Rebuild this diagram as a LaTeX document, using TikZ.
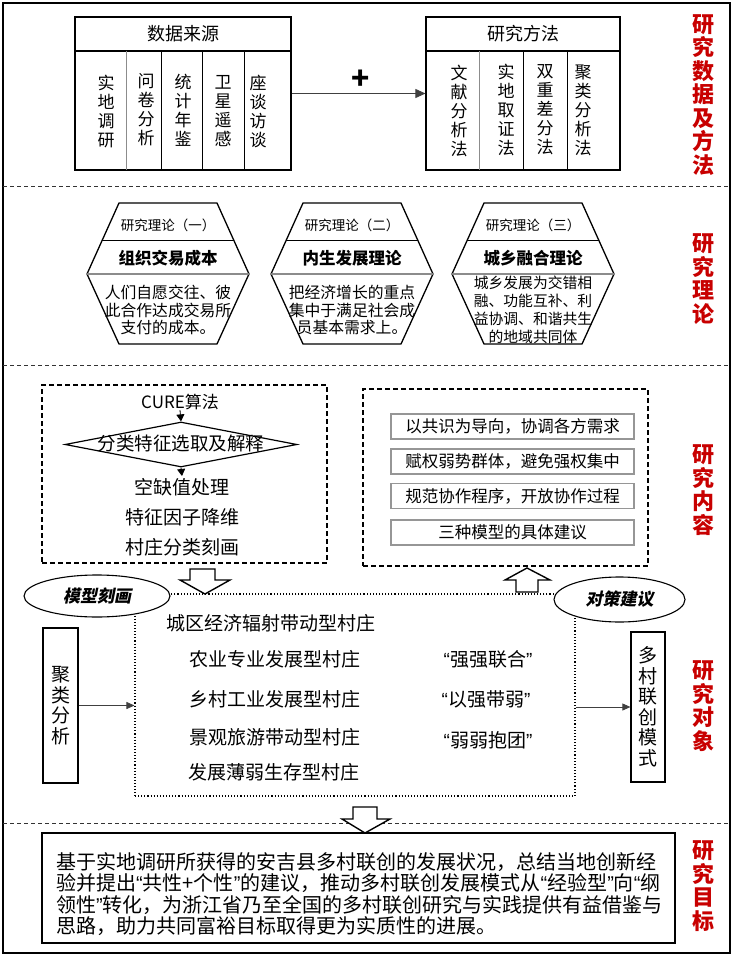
\documentclass[tikz,border=0pt]{standalone}
\usepackage{fontspec}
\setmainfont{Noto Sans CJK SC}
\newfontfamily\slantcjk[FakeSlant=0.2]{Noto Sans CJK SC}
\newfontfamily\quotefont{Liberation Sans}
\usetikzlibrary{arrows.meta,shapes.geometric}
\definecolor{labred}{RGB}{200,0,0}
\definecolor{framegray}{RGB}{150,150,150}
\newcommand\fsz[2]{\fontsize{#1}{#2}\selectfont}
% narrow curly quotes
\newcommand\oq{{\quotefont “}}
\newcommand\cq{{\quotefont ”}}

% one theory hexagon: #1 name prefix, #2 centre x, #3 tag, #4 title, #5 body, #6 body font
\newcommand\theoryhex[6]{%
  \draw[hexline] (#2-49,203) -- (#2+49,203) -- (#2+81,274) -- (#2+49,344) -- (#2-49,344) -- (#2-81,274) -- cycle;
  \begin{scope}
    \clip (#2-49,203) -- (#2+49,203) -- (#2+81,274) -- (#2+49,344) -- (#2-49,344) -- (#2-81,274) -- cycle;
    \draw[line width=1.1pt] (#2-90,240.5) -- (#2+90,240.5);
    \draw[line width=1.1pt, draw=black!45] (#2-90,274) -- (#2+90,274);
  \end{scope}
  \node[plain, font=\fsz{13.5}{15}] (#1tag) at (#2,225) {#3};
  \node[plain, font=\fsz{16.5}{18}\bfseries] (#1name) at (#2,258) {#4};
  \node[plain, align=center, font=#6] (#1body) at (#2,310) {#5};
}

\begin{document}
\begin{tikzpicture}[x=1pt,y=-1pt,
  box/.style={draw, line width=1.2pt, inner sep=0pt},
  vcol/.style={align=center, inner sep=0pt, font=\fsz{17}{19}},
  redlab/.style={align=center, inner sep=0pt, text=labred, font=\fsz{22}{23.5}\bfseries},
  plain/.style={inner sep=0pt},
  sep/.style={draw=black!80, line width=0.8pt, dash pattern=on 4pt off 3pt},
  dbox/.style={draw, line width=1.1pt, dash pattern=on 5pt off 3pt, inner sep=0pt},
  gbox/.style={draw=framegray, line width=1.3pt, inner sep=0pt, minimum width=243pt, minimum height=25pt, font=\fsz{16.5}{18}},
  tip/.style={-{Triangle[length=8pt,width=7pt]}, line width=0.8pt, draw=black!75},
  hollow/.style={draw, line width=1.4pt, fill=white, line join=miter},
  hexline/.style={line width=1.3pt},
  villa/.style={anchor=west, inner sep=0pt, font=\fsz{19}{21}},
  oval/.style={ellipse, draw, line width=1.1pt, fill=white, inner sep=0pt, font=\fsz{17}{19}\slantcjk\bfseries}
]
\useasboundingbox (0,0) rectangle (733,957);
\fill[white] (0,0) rectangle (733,957);

% outer frame and section separators
\draw[line width=1.3pt] (3,3) rectangle (730,953);
\draw[sep] (3,186) -- (730,186);
\draw[sep] (3,365) -- (730,365);
\draw[sep] (3,823) -- (730,823);

% ---------- data and methods ----------
\node[box, minimum width=216pt, minimum height=153pt] (src) at (183,93.5) {};
\draw[line width=1.2pt] (75,51) -- (291,51);
\draw[line width=1pt, draw=black!45] (126,51) -- (126,170);
\foreach \xx in {161,202,244} \draw[line width=1pt] (\xx,51) -- (\xx,170);
\node[plain, font=\fsz{18}{20}] (srchead) at (183,34) {数据来源};
\node[vcol] (s1) at (106,112) {实\\地\\调\\研};
\node[vcol] (s2) at (146,110) {问\\卷\\分\\析};
\node[vcol] (s3) at (183,110) {统\\计\\年\\鉴};
\node[vcol] (s4) at (223,111) {卫\\星\\遥\\感};
\node[vcol] (s5) at (258,111) {座\\谈\\访\\谈};

\node[box, minimum width=194pt, minimum height=153pt] (mth) at (523,93.5) {};
\draw[line width=1.2pt] (426,51) -- (620,51);
\draw[line width=1pt, draw=black!45] (479,51) -- (479,170);
\foreach \xx in {523,567} \draw[line width=1pt] (\xx,51) -- (\xx,170);
\node[plain, font=\fsz{18}{20}] (mthhead) at (523,34) {研究方法};
\node[vcol] (m1) at (459,111) {文\\献\\分\\析\\法};
\node[vcol] (m2) at (506,110) {实\\地\\取\\证\\法};
\node[vcol] (m3) at (545,110) {双\\重\\差\\分\\法};
\node[vcol] (m4) at (583,110) {聚\\类\\分\\析\\法};

\draw[tip, -{Triangle[length=10pt,width=9pt]}] (src.east) -- (mth.west);
\node[plain, font=\fsz{30}{30}\bfseries] (plus) at (361,80) {+};

\node[redlab] (lab1) at (703,95) {研\\究\\数\\据\\及\\方\\法};

% ---------- theories ----------
\theoryhex{ta}{168}{研究理论（一）}{组织交易成本}{人们自愿交往、彼\\此合作达成交易所\\支付的成本。}{\fsz{15.8}{17.2}}
\theoryhex{tb}{352}{研究理论（二）}{内生发展理论}{把经济增长的重点\\集中于满足社会成\\员基本需求上。}{\fsz{15.8}{17.8}}
\theoryhex{tc}{533}{研究理论（三）}{城乡融合理论}{城乡发展为交错相\\融、功能互补、利\\益协调、和谐共生\\的地域共同体}{\fsz{14.8}{18}}

\node[redlab] (lab2) at (703,279) {研\\究\\理\\论};

% ---------- research content ----------
\node[dbox, minimum width=285pt, minimum height=178pt] (algo) at (184.5,474) {};
\node[plain, font=\fsz{17}{19}] (cure) at (180,402) {CURE算法};
\node[diamond, draw, line width=1.2pt, inner sep=0pt, minimum width=232pt, minimum height=45pt] (dia) at (181,444.5) {};
\node[plain, font=\fsz{18.5}{20}] (diatext) at (181,443) {分类特征选取及解释};
\node[plain, font=\fsz{19}{21}, inner sep=2pt] (kq) at (182,487) {空缺值处理};
\node[plain, font=\fsz{19}{21}] (tz) at (182,517) {特征因子降维};
\node[plain, font=\fsz{19}{21}] (cz) at (182,547) {村庄分类刻画};
\draw[-{Triangle[length=7pt,width=8pt]}, line width=0.8pt] (cure.south) -- (dia.north);
\draw[-{Triangle[length=7pt,width=8pt]}, line width=0.8pt] (dia.south) -- (kq.north);

\node[dbox, minimum width=285pt, minimum height=177pt] (adv) at (505.5,477.5) {};
\node[gbox] (g1) at (512.5,426.5) {以共识为导向，协调各方需求};
\node[gbox] (g2) at (512.5,461.5) {赋权弱势群体，避免强权集中};
\node[gbox] (g3) at (512.5,496) {规范协作程序，开放协作过程};
\node[gbox] (g4) at (512.5,532.5) {三种模型的具体建议};

\node[redlab] (lab3) at (703,490) {研\\究\\内\\容};

% ---------- research objects ----------
\node[draw, dotted, line width=1.1pt, inner sep=0pt, minimum width=440pt, minimum height=202pt] (vil) at (355,695) {};
\node[oval, minimum width=146pt, minimum height=42pt] (model) at (97,596) {模型刻画};
\node[oval, minimum width=131pt, minimum height=45pt] (policy) at (619.5,599.5) {对策建议};

% block arrows between the panels
\draw[hollow] (190,569) -- (215,569) -- (215,580) -- (230,580) -- (205,594) -- (180,580) -- (190,580) -- cycle;
\draw[hollow] (516,592) -- (538,592) -- (538,580) -- (550,580) -- (527,568) -- (505,580) -- (516,580) -- cycle;

\node[box, minimum width=35pt, minimum height=155pt, align=center, font=\fsz{19}{20.5}] (jl) at (60.5,705.5) {聚\\类\\分\\析};
\node[box, minimum width=34pt, minimum height=150pt, align=center, font=\fsz{19}{20.5}] (mc) at (648,707) {多\\村\\联\\创\\模\\式};
\draw[tip] (jl.east) -- (jl.east -| vil.west);
\draw[tip] (vil.east |- mc.west) -- (mc.west);

\node[villa] (v1) at (166,623) {城区经济辐射带动型村庄};
\node[villa] (v2) at (189,659) {农业专业发展型村庄};
\node[villa] (v3) at (189,699) {乡村工业发展型村庄};
\node[villa] (v4) at (189,737) {景观旅游带动型村庄};
\node[villa] (v5) at (188,772) {发展薄弱生存型村庄};
\node[plain, font=\fsz{19}{21}] (q1) at (488,659) {\oq 强强联合\cq};
\node[plain, font=\fsz{19}{21}] (q2) at (486,699) {\oq 以强带弱\cq};
\node[plain, font=\fsz{19}{21}] (q3) at (488,740) {\oq 弱弱抱团\cq};

\node[redlab] (lab4) at (703,706) {研\\究\\对\\象};

% ---------- research goal ----------
\draw[hollow] (353,807) -- (377,807) -- (377,819) -- (390,819) -- (365,833) -- (342,819) -- (353,819) -- cycle;
\node[box, minimum width=633pt, minimum height=110pt] (goal) at (358.5,888) {};
\node[plain, anchor=west, align=left, font=\fsz{20}{21.4}] (goaltext) at (56,894) {基于实地调研所获得的安吉县多村联创的发展状况，总结当地创新经\\验并提出\oq 共性+个性\cq 的建议，推动多村联创发展模式从\oq 经验型\cq 向\oq 纲\\领性\cq 转化，为浙江省乃至全国的多村联创研究与实践提供有益借鉴与\\思路，助力共同富裕目标取得更为实质性的进展。};

\node[redlab] (lab5) at (703,886) {研\\究\\目\\标};
\end{tikzpicture}
\end{document}
